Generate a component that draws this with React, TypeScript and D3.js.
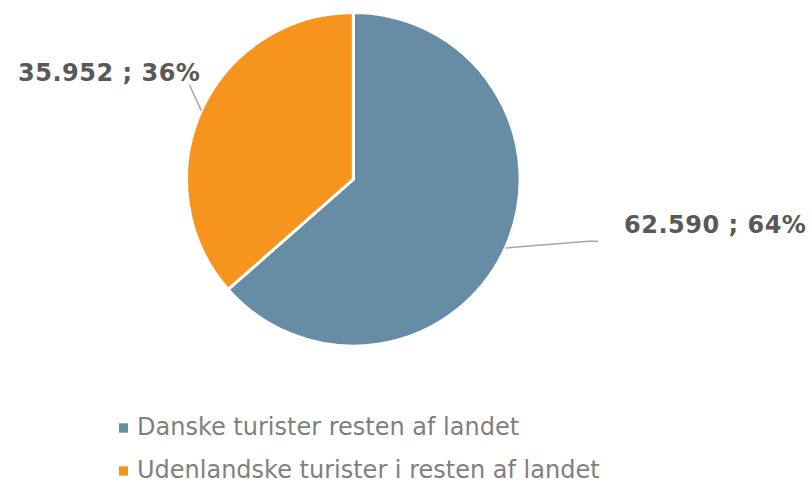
import React from "react";
import * as d3 from "d3";

const categories = ["Danske turister resten af landet", "Udenlandske turister i resten af landet"];
const values = [62590, 35952];
const percentLabels = ["64%", "36%"];
const valueLabels = ["62.590", "35.952"];
const colors = ["#678ca6", "#f7941e"];

const W = 812;
const H = 482;
const cx = 353.3;
const cy = 179.3;
const R = 166.8;

const labelLayout = [
  { tx: 624, ty: 232.5, anchor: "start", ex: 598, ey: 241.3, elbow: 588 },
  { tx: 18, ty: 80.5, anchor: "start", ex: 189.5, ey: 85, elbow: null as number | null },
];

export default function App() {
  const pie = d3
    .pie<number>()
    .sort(null)
    .value((d) => d)
    .startAngle(0)
    .endAngle(2 * Math.PI);
  const arcs = pie(values);
  const arc = d3.arc<d3.PieArcDatum<number>>().innerRadius(0).outerRadius(R);

  return (
    <svg
      width={W}
      height={H}
      style={{ position: "absolute", left: 0, top: 0, background: "#fff" }}
      fontFamily="'DejaVu Sans', Verdana, sans-serif"
    >
      <g transform={`translate(${cx},${cy})`}>
        {arcs.map((a, i) => (
          <path key={i} d={arc(a) || ""} fill={colors[i]} stroke="#fff" strokeWidth={3} strokeLinejoin="miter" />
        ))}
      </g>
      {arcs.map((a, i) => {
        const mid = (a.startAngle + a.endAngle) / 2;
        const sx = cx + R * Math.sin(mid);
        const sy = cy - R * Math.cos(mid);
        const L = labelLayout[i];
        const pts: [number, number][] = [[sx, sy]];
        if (L.elbow !== null) {
          pts.push([L.elbow, L.ey]);
        }
        pts.push([L.ex, L.ey]);
        const line = d3.line()(pts) || "";
        return (
          <g key={"l" + i}>
            <path d={line} fill="none" stroke="#a6a6a6" strokeWidth={1.5} />
            <text
              x={L.tx}
              y={L.ty}
              fontSize={24}
              fontWeight="bold"
              fill="#595959"
              letterSpacing={0.5}
              textAnchor={L.anchor}
            >
              {valueLabels[i]} ; {percentLabels[i]}
            </text>
          </g>
        );
      })}
      {categories.map((c, i) => (
        <g key={"lg" + i} transform={`translate(0,${i * 43})`}>
          <rect x={119} y={423.3} width={9} height={9.4} fill={colors[i]} />
          <text x={137} y={435.2} fontSize={24} fill="#7f7f7f">
            {c}
          </text>
        </g>
      ))}
    </svg>
  );
}
